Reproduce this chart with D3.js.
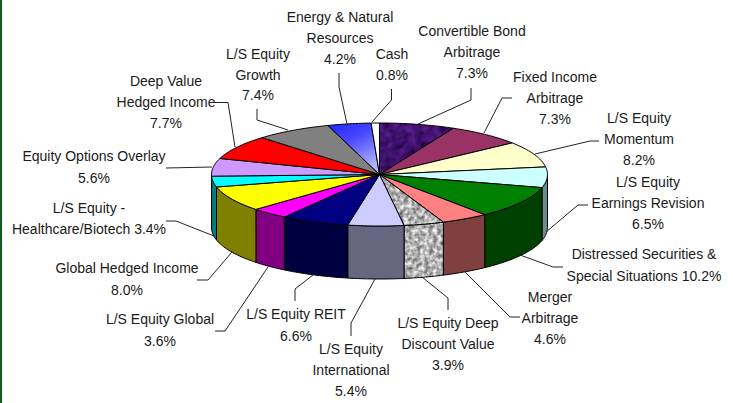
<!DOCTYPE html>
<html><head><meta charset="utf-8">
<script src="https://cdn.jsdelivr.net/npm/d3@7/dist/d3.min.js"></script>
<style>html,body{margin:0;padding:0;background:#fff;overflow:hidden}svg{display:block}text{font-family:"Liberation Sans",Arial,sans-serif;font-size:14px;fill:#1a1a1a;text-anchor:middle}</style>
</head><body><div id="c"></div>
<script>
const categories=["Convertible Bond Arbitrage","Fixed Income Arbitrage","L/S Equity Momentum","L/S Equity Earnings Revision","Distressed Securities & Special Situations","Merger Arbitrage","L/S Equity Deep Discount Value","L/S Equity International","L/S Equity REIT","L/S Equity Global","Global Hedged Income","L/S Equity - Healthcare/Biotech","Equity Options Overlay","Deep Value Hedged Income","L/S Equity Growth","Energy & Natural Resources","Cash"];
const values=[7.3,7.3,8.2,6.5,10.2,4.6,3.9,5.4,6.6,3.6,8.0,3.4,5.6,7.7,7.4,4.2,0.8];
const topFills=["url(#fPurple)","#993366","#FFFFCC","#CCFFFF","#008000","#FF8080","url(#fGranite)","#CCCCFF","#000080","#FF00FF","#FFFF00","#00FFFF","#CC99FF","#FF0000","#808080","url(#gBlue)","#FFFFFF"];
const sideFills=["#2a0a50","#4d1a33","#808066","#6b8a8a","#004000","#804040","url(#fGranite)","#666680","#000040","#800080","#808000","#008080","#664d80","#800000","#404040","#1a1a80","#808080"];
const labelLines=[["Convertible Bond","Arbitrage","7.3%"],["Fixed Income","Arbitrage","7.3%"],["L/S Equity","Momentum","8.2%"],["L/S Equity","Earnings Revision","6.5%"],["Distressed Securities &","Special Situations 10.2%"],["Merger","Arbitrage","4.6%"],["L/S Equity Deep","Discount Value","3.9%"],["L/S Equity","International","5.4%"],["L/S Equity REIT","6.6%"],["L/S Equity Global","3.6%"],["Global Hedged Income","8.0%"],["L/S Equity -","Healthcare/Biotech 3.4%"],["Equity Options Overlay","5.6%"],["Deep Value","Hedged Income","7.7%"],["L/S Equity","Growth","7.4%"],["Energy & Natural","Resources","4.2%"],["Cash","0.8%"]];
// layout: centre x and first baseline of each label, then its leader polyline
const labelAnchors=[[472,36],[555,82],[639,123],[648,187],[644,259],[550,302],[448,328],[351,354],[296,319],[160,324],[127,273],[89,213],[94,161],[166,86],[258,59],[340,22],[392,59]];
const lineHeights=[21,21,21,21,22,21,21,21,22,22,22,21,22,21,20.5,21,21];
const leaders=[[[471,88],[471,100],[418,124]],[[512,98],[502,98],[484,133]],[[599,141],[590,141],[535,154]],[[588,205],[578,205],[546,232]],[[563,267],[553,267],[520,255]],[[520,317],[510,317],[465,272]],[[448,310],[448,298],[422,277]],[[351,336],[351,323],[375,279]],[[295,301],[295,289],[313,275]],[[215,331],[225,331],[268,267]],[[197,280],[208,280],[232,252]],[[166,221],[176,221],[214,236]],[[166,168],[212,167]],[[215,102.5],[228,102.5],[235,147]],[[257,109],[257,120],[288,130]],[[339,73],[339,87],[347,124]],[[391.5,89],[391.5,100],[372,122]]];

const W=733,H=403,cx=379.5,cy=174.5,rx=168,ry=51.5,depth=53;
const svg=d3.select("#c").append("svg").attr("width",W).attr("height",H);
svg.append("rect").attr("width",2).attr("height",H).attr("fill","#0f5a1e");
const defs=svg.append("defs");
const g=defs.append("linearGradient").attr("id","gBlue").attr("x1",0).attr("y1",0).attr("x2",0.5).attr("y2",1);
g.append("stop").attr("offset",0).attr("stop-color","#2222ff");
g.append("stop").attr("offset",.45).attr("stop-color","#4a4aff");
g.append("stop").attr("offset",1).attr("stop-color","#b0b0ff");
function noise(id,freq,matrix){
  const f=defs.append("filter").attr("id",id+"N").attr("x",0).attr("y",0).attr("width",1).attr("height",1).attr("color-interpolation-filters","sRGB");
  f.append("feTurbulence").attr("type","fractalNoise").attr("baseFrequency",freq).attr("numOctaves",2).attr("seed",4);
  f.append("feColorMatrix").attr("type","matrix").attr("values",matrix);
  const p=defs.append("pattern").attr("id",id).attr("patternUnits","userSpaceOnUse").attr("width",W).attr("height",H);
  p.append("rect").attr("width",W).attr("height",H).attr("filter",`url(#${id}N)`);
}
noise("fGranite",0.24,"1.0 0 0 0 0.2  1.0 0 0 0 0.2  1.0 0 0 0 0.2  0 0 0 0 1");
noise("fPurple",0.12,"0.4 0 0 0 0.05  0.2 0 0 0 -0.03  0.5 0 0 0 0.18  0 0 0 0 1");

const arcs=d3.pie().sort(null).value(d=>d)(values);
const px=a=>cx+rx*Math.sin(a),py=a=>cy-ry*Math.cos(a);
const line=d3.line();
const steps=(a,b)=>{const n=Math.max(2,Math.ceil((b-a)/0.02));return d3.range(n+1).map(i=>a+(b-a)*i/n);};

const sides=svg.append("g");
arcs.forEach((d,i)=>{
  const a=Math.max(d.startAngle,Math.PI/2),b=Math.min(d.endAngle,Math.PI*1.5);
  if(b<=a)return;
  const ang=steps(a,b);
  const pts=ang.map(t=>[px(t),py(t)]).concat(ang.slice().reverse().map(t=>[px(t),py(t)+depth]));
  sides.append("path").attr("d",line(pts)+"Z").attr("fill",sideFills[i]).attr("stroke","#000").attr("stroke-width",1).attr("stroke-linejoin","round");
});
const tops=svg.append("g");
arcs.forEach((d,i)=>{
  const pts=[[cx,cy]].concat(steps(d.startAngle,d.endAngle).map(t=>[px(t),py(t)]));
  tops.append("path").attr("d",line(pts)+"Z").attr("fill",topFills[i]).attr("stroke","#000").attr("stroke-width",1).attr("stroke-linejoin","round");
});
svg.append("g").selectAll("path").data(leaders).join("path").attr("d",d=>line(d)).attr("fill","none").attr("stroke","#222").attr("stroke-width",1);
const lab=svg.append("g");
labelLines.forEach((ls,i)=>{
  ls.forEach((s,j)=>lab.append("text").attr("x",labelAnchors[i][0]).attr("y",labelAnchors[i][1]+j*lineHeights[i]).text(s));
});
</script></body></html>
